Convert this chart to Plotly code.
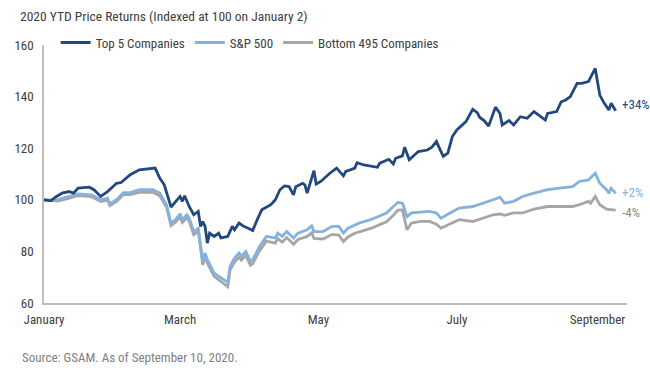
import plotly.graph_objects as go

# ---------------- data ----------------
top5_dates = ["01-02","01-05","01-07","01-10","01-13","01-15","01-17","01-22","01-24","01-27","01-30",
              "02-03","02-05","02-09","02-13","02-18","02-20","02-22","02-24","02-27","02-29",
              "03-02","03-03","03-04","03-06","03-08","03-10","03-11","03-12","03-13","03-14","03-15",
              "03-17","03-19","03-20","03-23","03-25","03-26","03-28","03-30",
              "04-01","04-03","04-05","04-07","04-11","04-13","04-15","04-17","04-19","04-21","04-22",
              "04-25","04-26","04-27","04-29","04-30",
              "05-01","05-03","05-07","05-10","05-13","05-14","05-16","05-18","05-19","05-22","05-28","05-29",
              "06-02","06-04","06-05","06-08","06-09","06-11","06-15","06-19","06-21","06-23","06-24","06-26",
              "06-28","06-30",
              "07-02","07-05","07-06","07-09","07-11","07-12","07-14","07-16","07-19","07-21","07-22","07-25",
              "07-27","07-30",
              "08-02","08-05","08-07","08-10","08-11","08-15","08-17","08-19","08-21","08-24","08-26","08-29",
              "09-01","09-03","09-05","09-07","09-08","09-10"]
top5_values = [100, 99.6, 101, 102.6, 103.2, 102.6, 104.5, 104.9, 103.9, 101.3, 103.2,
               106.4, 106.7, 109.7, 111.6, 111.9, 112.3, 108.4, 105.8, 97.2, 99.4,
               101.3, 99.4, 101.6, 97.4, 94.2, 95.5, 89.7, 91.6, 89.7, 83.2, 87.1,
               85.8, 87.1, 85.2, 85.8, 89.7, 88.4, 91.0, 89.7,
               89.0, 88.1, 92.3, 96.1, 98.1, 100, 103.9, 105.4, 105.1, 101.9, 105.1,
               106.4, 105.8, 102.6, 108.4, 111.3,
               106.1, 107.1, 110.3, 112.3, 109.3, 111.0, 111.6, 112.3, 114.4, 113.5, 112.6, 114.2,
               115.7, 113.9, 116.1, 117.0, 120.4, 115.5, 118.7, 119.3, 120.4, 122.6, 120.6, 116.8,
               118.1, 124.5,
               127.1, 129.7, 130.3, 135.1, 133.8, 132.0, 130.7, 128.6, 135.9, 133.5, 129.0, 130.7,
               129.0, 132.2,
               131.6, 134.2, 132.9, 130.9, 133.5, 134.2, 138.0, 138.7, 140.0, 145.1, 145.1, 145.8,
               150.9, 140.6, 137.4, 134.8, 137.4, 134.5]

spx_dates = ["01-02","01-08","01-12","01-17","01-23","01-27","01-30","01-31",
             "02-03","02-06","02-09","02-13","02-19","02-22","02-25","02-27","02-29",
             "03-02","03-03","03-05","03-06","03-08","03-10","03-12","03-13","03-14","03-17","03-19",
             "03-21","03-23","03-24","03-26","03-28","03-29","03-31",
             "04-02","04-03","04-06","04-09","04-13","04-14","04-16","04-18","04-21","04-23","04-27",
             "04-29","04-30",
             "05-04","05-08","05-11","05-13","05-15","05-18","05-20","05-25","05-28",
             "06-01","06-04","06-06","06-08","06-10","06-12","06-16","06-20","06-23","06-25","06-29",
             "07-03","07-09","07-14","07-18","07-21","07-23","07-27","07-31",
             "08-05","08-11","08-16","08-22","08-25","08-29",
             "09-01","09-03","09-06","09-07","09-08","09-10"]
spx_values = [100, 100, 101, 102.3, 101.9, 100, 100.6, 98.5,
              100, 102.8, 102.8, 103.9, 103.9, 102.6, 98.1, 91.0, 92.3,
              94.6, 92.3, 94.2, 92.9, 87.7, 89.0, 76.1, 79.4, 76.8, 71.6, 70.3,
              69.1, 68.0, 74.2, 77.4, 79.4, 78.1, 80.0,
              76.1, 76.8, 81.9, 85.8, 85.2, 87.1, 85.8, 87.7, 85.2, 87.1, 88.4,
              89.9, 87.7,
              87.7, 89.7, 89.7, 87.1, 89.0, 90.3, 91.0, 92.3, 93.5,
              94.9, 97.4, 99.0, 98.7, 93.5, 94.9, 95.1, 95.5, 94.9, 92.9, 94.9,
              96.8, 97.4, 98.7, 100, 101.0, 98.7, 99.4, 101.3,
              102.6, 103.9, 104.5, 105.1, 107.1, 107.7,
              110.3, 106.4, 103.9, 102.6, 104.5, 102.5]

b495_dates = ["01-02","01-08","01-12","01-17","01-23","01-27","01-30","01-31",
              "02-03","02-06","02-09","02-13","02-19","02-22","02-25","02-27","02-29",
              "03-02","03-03","03-05","03-06","03-08","03-10","03-12","03-13","03-14","03-17","03-19",
              "03-21","03-23","03-24","03-26","03-28","03-29","03-31",
              "04-02","04-03","04-06","04-09","04-13","04-14","04-16","04-18","04-21","04-23","04-27",
              "04-29","04-30",
              "05-04","05-08","05-11","05-13","05-15","05-18","05-20","05-25","05-28",
              "06-01","06-04","06-06","06-08","06-10","06-12","06-16","06-20","06-23","06-25","06-29",
              "07-03","07-09","07-14","07-18","07-21","07-23","07-27","07-31",
              "08-05","08-11","08-16","08-22","08-25","08-29","08-30",
              "09-01","09-03","09-06","09-10"]
b495_values = [100, 99.5, 100.4, 101.6, 101.2, 99.3, 99.9, 97.8,
               99.3, 102.0, 102.0, 102.9, 102.9, 101.6, 97.2, 90.0, 91.3,
               93.5, 91.2, 93.0, 91.7, 86.5, 87.8, 74.8, 78.0, 75.5, 70.3, 69.0,
               67.8, 66.3, 72.8, 75.9, 77.8, 76.6, 78.4,
               74.6, 75.3, 80.2, 84.0, 83.2, 85.0, 83.6, 85.4, 82.8, 84.6, 85.8,
               87.2, 85.0,
               84.8, 86.6, 86.3, 83.8, 85.6, 87.0, 87.6, 88.9, 90.0,
               91.5, 94.0, 96.0, 96.1, 88.4, 91.0, 91.6, 91.6, 90.5, 89.0, 90.5,
               92.3, 91.6, 92.9, 94.2, 94.5, 94.0, 94.9, 94.9,
               96.4, 97.4, 97.4, 97.4, 98.1, 99.4, 98.7,
               101.3, 98.1, 96.4, 96.0]

series_names = ["Top 5 Companies", "S&P 500", "Bottom 495 Companies"]
end_labels = ["+34%", "+2%", "-4%"]
month_ticks = ["2020-01-02", "2020-03-02", "2020-05-02", "2020-07-02", "2020-09-02"]
month_labels = ["January", "March", "May", "July", "September"]
y_ticks = [60, 80, 100, 120, 140, 160]

# ---------------- style ----------------
FONT = "Liberation Sans Narrow, Arial Narrow, Roboto Condensed, Liberation Sans, Arial, sans-serif"
TXT = "#404040"
colors = ["#22487e", "#84b1dd", "#a6a6a6"]
label_colors = ["#22487e", "#84b1dd", "#8c8c8c"]
label_shift = [6, 1, -2]

def full(ds):
    return ["2020-" + d for d in ds]

data = [(full(top5_dates), top5_values), (full(spx_dates), spx_values), (full(b495_dates), b495_values)]

fig = go.Figure()
# draw grey first, dark blue last (on top); legend keeps original order
for i in [2, 1, 0]:
    d, v = data[i]
    fig.add_trace(go.Scatter(x=d, y=v, mode="lines", name=series_names[i],
                             line=dict(color=colors[i], width=2.8),
                             legendrank=i + 1, hoverinfo="skip"))

annotations = []
for i in range(3):
    d, v = data[i]
    annotations.append(dict(x=d[-1], y=v[-1], xref="x", yref="y", text=end_labels[i],
                            showarrow=False, xanchor="left", yanchor="middle",
                            xshift=4, yshift=label_shift[i],
                            font=dict(family=FONT, size=13, color=label_colors[i])))
annotations.append(dict(x=-0.041, y=-0.211, xref="paper", yref="paper", xanchor="left", yanchor="middle",
                        text="Source: GSAM. As of September 10, 2020.", showarrow=False,
                        font=dict(family=FONT, size=13, color="#808080")))

fig.update_layout(
    width=650, height=382,
    margin=dict(l=44, r=23, t=45, b=79),
    paper_bgcolor="white", plot_bgcolor="white",
    font=dict(family=FONT, size=13, color=TXT),
    title=dict(text="2020 YTD Price Returns (Indexed at 100 on January 2)",
               x=20 / 650, xanchor="left", xref="container",
               y=1 - 16 / 382, yanchor="middle", yref="container",
               font=dict(family=FONT, size=13.5, color=TXT)),
    legend=dict(orientation="h", x=0.02, xanchor="left", y=1.0095, yanchor="middle",
                bgcolor="rgba(0,0,0,0)", font=dict(family=FONT, size=13, color=TXT),
                traceorder="normal", itemwidth=30),
    showlegend=True,
    annotations=annotations,
)
fig.update_xaxes(type="date", range=["2020-01-02", "2020-09-15"],
                 tickvals=month_ticks, ticktext=month_labels, ticks="",
                 showgrid=False, zeroline=False, showline=True, linecolor="#bfbfbf", linewidth=1.5,
                 tickfont=dict(family=FONT, size=13, color=TXT), ticklabelstandoff=4)
fig.update_yaxes(range=[60, 160], tickvals=y_ticks, ticks="",
                 showgrid=False, zeroline=False, showline=True, linecolor="#bfbfbf", linewidth=1.5,
                 tickfont=dict(family=FONT, size=13, color=TXT), ticklabelstandoff=6)

# remove the browser's default 8px body margin so the figure sits at the page origin
fig.write_html("out.html", config={"displayModeBar": False},
               post_script="document.body.style.margin='0px';")
